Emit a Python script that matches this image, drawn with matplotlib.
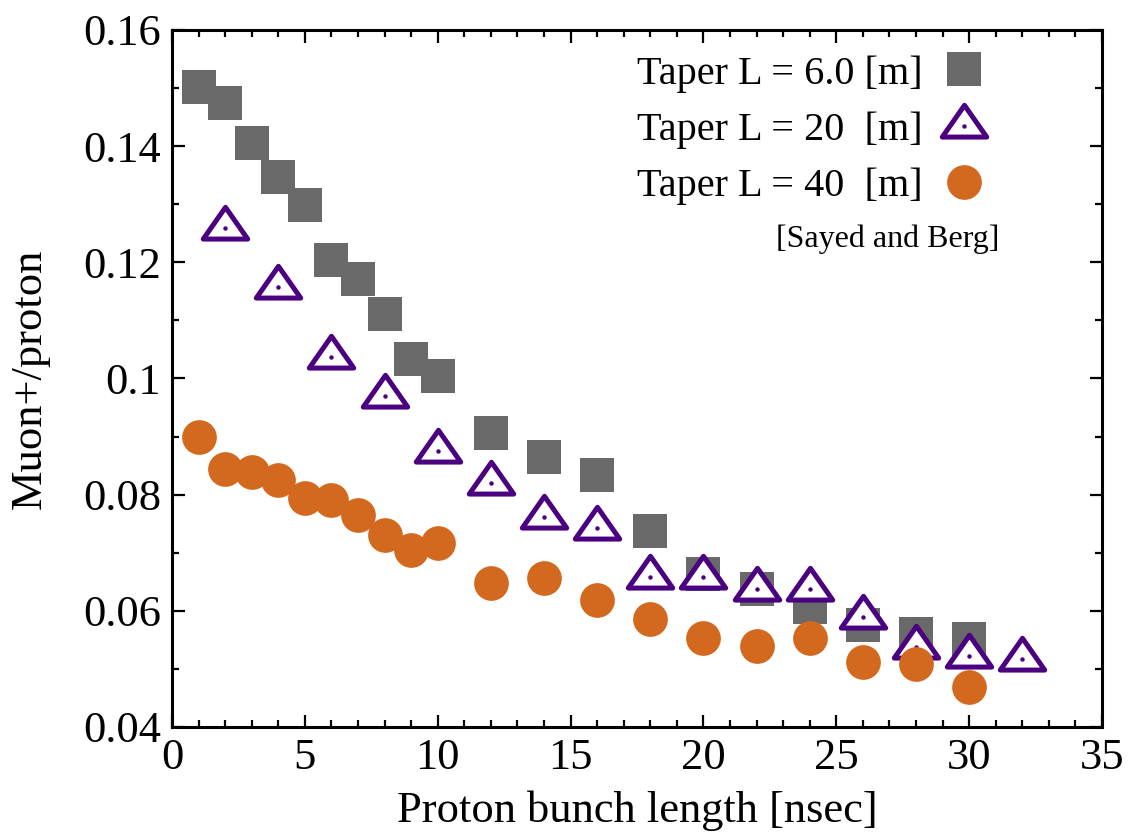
import numpy as np
import matplotlib.pyplot as plt
from matplotlib.path import Path
from matplotlib.ticker import MultipleLocator

plt.rcParams['font.family'] = ['Liberation Serif', 'DejaVu Serif']

# bunch length [nsec] and muon+/proton for each taper length
x_6m = [1, 2, 3, 4, 5, 6, 7, 8, 9, 10, 12, 14, 16, 18, 20, 22, 24, 26, 28, 30]
y_6m = [0.1502, 0.1474, 0.1405, 0.1347, 0.1299, 0.1204, 0.1171, 0.1111, 0.1034, 0.1004,
        0.0906, 0.0865, 0.0834, 0.0737, 0.0664, 0.0637, 0.0607, 0.0576, 0.0560, 0.0551]

x_20m = [2, 4, 6, 8, 10, 12, 14, 16, 18, 20, 22, 24, 26, 28, 30, 32]
y_20m = [0.1259, 0.1158, 0.1037, 0.0970, 0.0875, 0.0820, 0.0761, 0.0743,
         0.0658, 0.0658, 0.0638, 0.0638, 0.0590, 0.0538, 0.0522, 0.0517]

x_40m = [1, 2, 3, 4, 5, 6, 7, 8, 9, 10, 12, 14, 16, 18, 20, 22, 24, 26, 28, 30]
y_40m = [0.0899, 0.0844, 0.0839, 0.0825, 0.0794, 0.0791, 0.0765, 0.0730, 0.0705, 0.0717,
         0.0648, 0.0656, 0.0619, 0.0586, 0.0553, 0.0539, 0.0553, 0.0512, 0.0508, 0.0469]

labels = ['Taper L = 6.0 [m]', 'Taper L = 20  [m]', 'Taper L = 40  [m]']

# triangle with its centroid on the data point
tri = Path([(0, 0.667), (-0.7, -0.333), (0.7, -0.333), (0, 0.667)],
           [Path.MOVETO, Path.LINETO, Path.LINETO, Path.CLOSEPOLY])

fig = plt.figure(figsize=(11.34, 8.33), dpi=100)
ax = fig.add_axes([0.1517, 0.1273, 0.8201, 0.8367])

sq, = ax.plot(x_6m, y_6m, ls='none', marker='s', ms=24.5, color='#696969', mew=0)
tr, = ax.plot(x_20m, y_20m, ls='none', marker=tri, ms=32, mfc='white',
              mec='#4b0082', mew=3.6)
dt, = ax.plot(x_20m, y_20m, ls='none', marker='o', ms=3.2, color='#4b0082', mew=0)
ci, = ax.plot(x_40m, y_40m, ls='none', marker='o', ms=25, color='#d2691e', mew=0)

ax.set_xlim(0, 35)
ax.set_ylim(0.04, 0.16)
ax.xaxis.set_major_locator(MultipleLocator(5))
ax.xaxis.set_minor_locator(MultipleLocator(1))
ax.yaxis.set_major_locator(MultipleLocator(0.02))
ax.yaxis.set_minor_locator(MultipleLocator(0.01))
ax.yaxis.set_major_formatter(plt.FuncFormatter(lambda v, p: ('%.2f' % v).rstrip('0')))

ax.tick_params(which='both', direction='in', top=True, right=True, width=1.6)
ax.tick_params(which='major', length=9, labelsize=32, pad=8)
ax.tick_params(which='minor', length=5)
for s in ax.spines.values():
    s.set_linewidth(2.2)

ax.set_xlabel('Proton bunch length [nsec]', fontsize=32, labelpad=9)
ax.set_ylabel('Muon+/proton', fontsize=32)
ax.yaxis.set_label_coords(-0.131, 0.5)

leg = ax.legend([sq, (tr, dt), ci], labels, loc='upper right', bbox_to_anchor=(0.8925, 0.99),
                frameon=False, markerfirst=False, fontsize=29, handlelength=1.0,
                handletextpad=0.53, labelspacing=0.46, borderaxespad=0.15, borderpad=0.3)
ax.text(0.89, 0.70, '[Sayed and Berg]', transform=ax.transAxes, fontsize=23,
        ha='right', va='center')

fig.savefig('out.png', dpi=100)
